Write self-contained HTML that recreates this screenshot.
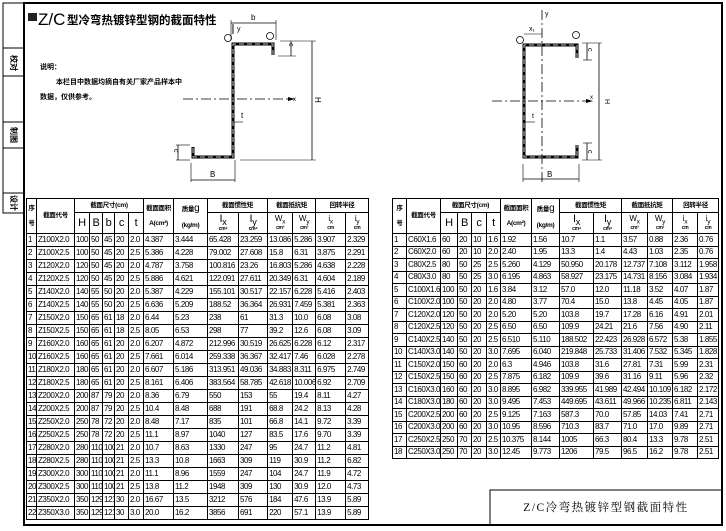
<!DOCTYPE html>
<html><head><meta charset="utf-8"><style>
body{margin:0;width:726px;height:531px;background:#fff;position:relative;overflow:hidden;font-family:"Liberation Sans","Noto Sans CJK SC",sans-serif;}
svg.bg{position:absolute;left:0;top:0}
table{position:absolute;border-collapse:collapse;table-layout:fixed;font-size:8px;color:#000;}
td{border:1px solid #000;padding:0 0 0 1px;white-space:nowrap;overflow:hidden;line-height:1;letter-spacing:-0.45px}
.h td{font-weight:bold;font-size:6.5px;text-align:center;padding:0;line-height:1.1;letter-spacing:-0.3px}
.hb td{font-size:11px;font-weight:normal}
.u{font-size:5px;display:block;font-weight:bold}
.s{font-size:10px;font-weight:normal}
#L{left:26px;top:198px;width:342px}
#L tr.r{height:13px}
#R{left:392px;top:198px;width:326px}
#R tr.r{height:12.5px}
</style></head><body>
<svg class="bg" width="726" height="531" viewBox="0 0 726 531" font-family="Liberation Sans, Noto Sans CJK SC, sans-serif">
<rect x="24" y="3" width="698" height="522" fill="none" stroke="#000" stroke-width="2"/>
<rect x="3" y="3" width="21" height="210" fill="none" stroke="#000" stroke-width="1"/>
<g stroke="#000" stroke-width="1"><line x1="3" y1="48" x2="24" y2="48"/><line x1="3" y1="76" x2="24" y2="76"/><line x1="3" y1="122" x2="24" y2="122"/><line x1="3" y1="148" x2="24" y2="148"/><line x1="3" y1="193" x2="24" y2="193"/></g>
<g font-size="8" font-weight="bold" text-anchor="middle"><text transform="translate(11,63) rotate(90)">校对</text><text transform="translate(11,135) rotate(90)">制图</text><text transform="translate(11,203) rotate(90)">设计</text></g>
<rect x="28" y="13" width="9" height="8" fill="#222"/>
<text x="38" y="25" font-size="17" font-weight="100" font-family="Liberation Sans, sans-serif">Z/C</text>
<text x="67" y="24" font-size="11.5" font-weight="bold">型冷弯热镀锌型钢的截面特性</text>
<g font-size="7" font-weight="bold"><text x="40" y="69">说明：</text><text x="56" y="84">本栏目中数据均摘自有关厂家产品样本中</text><text x="40" y="99">数据，仅供参考。</text></g>
<g fill="none" stroke="#000">
<polyline points="273,55 273,44 233,44 233,157 193,157 193,147" stroke-width="3"/>
<polyline points="273,55 273,44 233,44 233,157 193,157 193,147" stroke="#fff" stroke-width="0.8" stroke-dasharray="5,3"/>
<line x1="183" y1="99" x2="288" y2="99" stroke-width="0.8" stroke-dasharray="10,3,2,3"/>
<line x1="233" y1="24" x2="233" y2="34" stroke-width="1"/>
<line x1="231" y1="23" x2="276" y2="23" stroke-width="0.8"/><line x1="231" y1="20" x2="231" y2="40" stroke-width="0.6"/><line x1="276" y1="20" x2="276" y2="40" stroke-width="0.6"/>
<line x1="280" y1="41" x2="316" y2="41" stroke-width="0.6"/><line x1="240" y1="160" x2="316" y2="160" stroke-width="0.6"/>
<line x1="312" y1="41" x2="312" y2="160" stroke-width="0.8"/>
<line x1="278" y1="56" x2="296" y2="56" stroke-width="0.6"/><line x1="291" y1="41" x2="291" y2="56" stroke-width="0.8"/>
<line x1="176" y1="145" x2="190" y2="145" stroke-width="0.6"/><line x1="178" y1="145" x2="178" y2="160" stroke-width="0.8"/><line x1="176" y1="160" x2="190" y2="160" stroke-width="0.6"/>
<line x1="191" y1="163" x2="191" y2="182" stroke-width="0.6"/><line x1="235" y1="160" x2="235" y2="182" stroke-width="0.6"/><line x1="191" y1="180" x2="235" y2="180" stroke-width="0.8"/>
<line x1="233" y1="122" x2="243" y2="122" stroke-width="0.6"/>
<circle cx="228" cy="38" r="3.5" stroke-width="0.8"/><circle cx="270" cy="36" r="3.5" stroke-width="0.8"/>
</g>
<polygon points="288,97 295,99 288,101" fill="#000"/>
<g font-size="8"><text x="251" y="20">b</text><text x="237" y="31" font-size="7">y</text><text x="293" y="101" font-size="6">x</text><text x="315" y="103" font-size="8" transform="rotate(90 318 100)">H</text><text x="241" y="118">t</text><text x="210" y="177">B</text><text x="286" y="52" font-size="7" transform="rotate(90 292 49)">c</text><text x="173" y="156" font-size="7" transform="rotate(90 177 153)">c</text></g>
<g fill="none" stroke="#000">
<polyline points="577,58 577,45 524,45 524,157 577,157 577,145" stroke-width="3"/>
<polyline points="577,58 577,45 524,45 524,157 577,157 577,145" stroke="#fff" stroke-width="0.8" stroke-dasharray="5,3"/>
<line x1="542" y1="10" x2="542" y2="182" stroke-width="0.8" stroke-dasharray="10,3,2,3"/>
<line x1="492" y1="101" x2="586" y2="101" stroke-width="0.8" stroke-dasharray="10,3,2,3"/>
<line x1="524" y1="34" x2="542" y2="34" stroke-width="0.6"/>
<line x1="582" y1="43" x2="602" y2="43" stroke-width="0.6"/><line x1="582" y1="160" x2="602" y2="160" stroke-width="0.6"/><line x1="599" y1="43" x2="599" y2="160" stroke-width="0.8"/>
<line x1="587" y1="43" x2="587" y2="60" stroke-width="0.8"/><line x1="583" y1="60" x2="592" y2="60" stroke-width="0.6"/>
<line x1="587" y1="143" x2="587" y2="160" stroke-width="0.8"/><line x1="583" y1="143" x2="592" y2="143" stroke-width="0.6"/>
<line x1="523" y1="164" x2="523" y2="182" stroke-width="0.6"/><line x1="579" y1="164" x2="579" y2="182" stroke-width="0.6"/><line x1="523" y1="179" x2="579" y2="179" stroke-width="0.8"/>
<line x1="524" y1="122" x2="535" y2="122" stroke-width="0.6"/>
<circle cx="520" cy="40" r="3.5" stroke-width="0.8"/><circle cx="576" cy="35" r="3.5" stroke-width="0.8"/>
</g>
<polygon points="586,99 593,101 586,103" fill="#000"/>
<g font-size="7"><text x="545" y="16">y</text><text x="529" y="31">x₁</text><text x="590" y="99" font-size="6">x</text><text x="601" y="99" font-size="7" transform="rotate(90 603 101)">H</text><text x="532" y="118">t</text><text x="547" y="177" font-size="8">B</text><text x="588" y="54" transform="rotate(90 591 51)">c</text><text x="588" y="156" transform="rotate(90 591 153)">c</text></g>
<rect x="490" y="490" width="232" height="35" fill="none" stroke="#000" stroke-width="1"/>
<text x="606" y="511" font-size="11.5" text-anchor="middle" letter-spacing="1.5" font-family="Liberation Serif, Noto Serif CJK SC, serif">Z/C冷弯热镀锌型钢截面特性</text>
</svg>

<table id="L">
<colgroup><col style="width:10px"><col style="width:38px"><col style="width:15px"><col style="width:13px"><col style="width:12px"><col style="width:14px"><col style="width:15px"><col style="width:30px"><col style="width:34px"><col style="width:31px"><col style="width:29px"><col style="width:25px"><col style="width:23px"><col style="width:30px"><col style="width:23px"></colgroup>
<tr class="h" style="height:14px"><td rowspan="2">序<br><br>号</td><td rowspan="2">截面代号</td><td colspan="5">截面尺寸(cm)</td><td rowspan="2">截面面积<br><br>A(cm²)</td><td rowspan="2">质量<span class="s">g</span><br><br>(kg/m)</td><td colspan="2">截面惯性矩</td><td colspan="2">截面抵抗矩</td><td colspan="2">回转半径</td></tr>
<tr class="h hb" style="height:21px"><td>H</td><td>B</td><td>b</td><td>c</td><td>t</td><td>I<sub>x</sub><span class="u">cm⁴</span></td><td>I<sub>y</sub><span class="u">cm⁴</span></td><td style="font-size:8px">W<sub>x</sub><span class="u">cm³</span></td><td style="font-size:8px">W<sub>y</sub><span class="u">cm³</span></td><td style="font-size:8px">i<sub>x</sub><span class="u">cm</span></td><td style="font-size:8px">i<sub>y</sub><span class="u">cm</span></td></tr>
<tr class="r"><td>1</td><td>Z100X2.0</td><td>100</td><td>50</td><td>45</td><td>20</td><td>2.0</td><td>4.387</td><td>3.444</td><td>65.428</td><td>23.259</td><td>13.086</td><td>5.286</td><td>3.907</td><td>2.329</td></tr>
<tr class="r"><td>2</td><td>Z100X2.5</td><td>100</td><td>50</td><td>45</td><td>20</td><td>2.5</td><td>5.386</td><td>4.228</td><td>79.002</td><td>27.608</td><td>15.8</td><td>6.31</td><td>3.875</td><td>2.291</td></tr>
<tr class="r"><td>3</td><td>Z120X2.0</td><td>120</td><td>50</td><td>45</td><td>20</td><td>2.0</td><td>4.787</td><td>3.758</td><td>100.816</td><td>23.26</td><td>16.803</td><td>5.286</td><td>4.638</td><td>2.228</td></tr>
<tr class="r"><td>4</td><td>Z120X2.5</td><td>120</td><td>50</td><td>45</td><td>20</td><td>2.5</td><td>5.886</td><td>4.621</td><td>122.091</td><td>27.611</td><td>20.349</td><td>6.31</td><td>4.604</td><td>2.189</td></tr>
<tr class="r"><td>5</td><td>Z140X2.0</td><td>140</td><td>55</td><td>50</td><td>20</td><td>2.0</td><td>5.387</td><td>4.229</td><td>155.101</td><td>30.517</td><td>22.157</td><td>6.228</td><td>5.416</td><td>2.403</td></tr>
<tr class="r"><td>6</td><td>Z140X2.5</td><td>140</td><td>55</td><td>50</td><td>20</td><td>2.5</td><td>6.636</td><td>5.209</td><td>188.52</td><td>36.364</td><td>26.931</td><td>7.459</td><td>5.381</td><td>2.363</td></tr>
<tr class="r"><td>7</td><td>Z150X2.0</td><td>150</td><td>65</td><td>61</td><td>18</td><td>2.0</td><td>6.44</td><td>5.23</td><td>238</td><td>61</td><td>31.3</td><td>10.0</td><td>6.08</td><td>3.08</td></tr>
<tr class="r"><td>8</td><td>Z150X2.5</td><td>150</td><td>65</td><td>61</td><td>18</td><td>2.5</td><td>8.05</td><td>6.53</td><td>298</td><td>77</td><td>39.2</td><td>12.6</td><td>6.08</td><td>3.09</td></tr>
<tr class="r"><td>9</td><td>Z160X2.0</td><td>160</td><td>65</td><td>61</td><td>20</td><td>2.0</td><td>6.207</td><td>4.872</td><td>212.996</td><td>30.519</td><td>26.625</td><td>6.228</td><td>6.12</td><td>2.317</td></tr>
<tr class="r"><td>10</td><td>Z160X2.5</td><td>160</td><td>65</td><td>61</td><td>20</td><td>2.5</td><td>7.661</td><td>6.014</td><td>259.338</td><td>36.367</td><td>32.417</td><td>7.46</td><td>6.028</td><td>2.278</td></tr>
<tr class="r"><td>11</td><td>Z180X2.0</td><td>180</td><td>65</td><td>61</td><td>20</td><td>2.0</td><td>6.607</td><td>5.186</td><td>313.951</td><td>49.036</td><td>34.883</td><td>8.311</td><td>6.975</td><td>2.749</td></tr>
<tr class="r"><td>12</td><td>Z180X2.5</td><td>180</td><td>65</td><td>61</td><td>20</td><td>2.5</td><td>8.161</td><td>6.406</td><td>383.564</td><td>58.785</td><td>42.618</td><td>10.006</td><td>6.92</td><td>2.709</td></tr>
<tr class="r"><td>13</td><td>Z200X2.0</td><td>200</td><td>87</td><td>79</td><td>20</td><td>2.0</td><td>8.36</td><td>6.79</td><td>550</td><td>153</td><td>55</td><td>19.4</td><td>8.11</td><td>4.27</td></tr>
<tr class="r"><td>14</td><td>Z200X2.5</td><td>200</td><td>87</td><td>79</td><td>20</td><td>2.5</td><td>10.4</td><td>8.48</td><td>688</td><td>191</td><td>68.8</td><td>24.2</td><td>8.13</td><td>4.28</td></tr>
<tr class="r"><td>15</td><td>Z250X2.0</td><td>250</td><td>78</td><td>72</td><td>20</td><td>2.0</td><td>8.48</td><td>7.17</td><td>835</td><td>101</td><td>66.8</td><td>14.1</td><td>9.72</td><td>3.39</td></tr>
<tr class="r"><td>16</td><td>Z250X2.5</td><td>250</td><td>78</td><td>72</td><td>20</td><td>2.5</td><td>11.1</td><td>8.97</td><td>1040</td><td>127</td><td>83.5</td><td>17.6</td><td>9.70</td><td>3.39</td></tr>
<tr class="r"><td>17</td><td>Z280X2.0</td><td>280</td><td>110</td><td>100</td><td>21</td><td>2.0</td><td>10.7</td><td>8.63</td><td>1330</td><td>247</td><td>95</td><td>24.7</td><td>11.2</td><td>4.81</td></tr>
<tr class="r"><td>18</td><td>Z280X2.5</td><td>280</td><td>110</td><td>100</td><td>21</td><td>2.5</td><td>13.3</td><td>10.8</td><td>1663</td><td>309</td><td>119</td><td>30.9</td><td>11.2</td><td>6.82</td></tr>
<tr class="r"><td>19</td><td>Z300X2.0</td><td>300</td><td>110</td><td>100</td><td>21</td><td>2.0</td><td>11.1</td><td>8.96</td><td>1559</td><td>247</td><td>104</td><td>24.7</td><td>11.9</td><td>4.72</td></tr>
<tr class="r"><td>20</td><td>Z300X2.5</td><td>300</td><td>110</td><td>100</td><td>21</td><td>2.5</td><td>13.8</td><td>11.2</td><td>1948</td><td>309</td><td>130</td><td>30.9</td><td>12.0</td><td>4.73</td></tr>
<tr class="r"><td>21</td><td>Z350X2.0</td><td>350</td><td>129</td><td>121</td><td>30</td><td>2.0</td><td>16.67</td><td>13.5</td><td>3212</td><td>576</td><td>184</td><td>47.6</td><td>13.9</td><td>5.89</td></tr>
<tr class="r"><td>22</td><td>Z350X3.0</td><td>350</td><td>129</td><td>121</td><td>30</td><td>3.0</td><td>20.0</td><td>16.2</td><td>3856</td><td>691</td><td>220</td><td>57.1</td><td>13.9</td><td>5.89</td></tr>
</table>

<table id="R">
<colgroup><col style="width:14px"><col style="width:34px"><col style="width:17px"><col style="width:14px"><col style="width:15px"><col style="width:14px"><col style="width:31px"><col style="width:28px"><col style="width:34px"><col style="width:28px"><col style="width:26px"><col style="width:25px"><col style="width:25px"><col style="width:21px"></colgroup>
<tr class="h" style="height:14px"><td rowspan="2">序<br><br>号</td><td rowspan="2">截面代号</td><td colspan="4">截面尺寸(cm)</td><td rowspan="2">截面面积<br><br>A(cm²)</td><td rowspan="2">质量<span class="s">g</span><br><br>(kg/m)</td><td colspan="2">截面惯性矩</td><td colspan="2">截面抵抗矩</td><td colspan="2">回转半径</td></tr>
<tr class="h hb" style="height:21px"><td>H</td><td>B</td><td>c</td><td>t</td><td>I<sub>x</sub><span class="u">cm⁴</span></td><td>I<sub>y</sub><span class="u">cm⁴</span></td><td style="font-size:8px">W<sub>x</sub><span class="u">cm³</span></td><td style="font-size:8px">W<sub>y</sub><span class="u">cm³</span></td><td style="font-size:8px">i<sub>x</sub><span class="u">cm</span></td><td style="font-size:8px">i<sub>y</sub><span class="u">cm</span></td></tr>
<tr class="r"><td>1</td><td>C60X1.6</td><td>60</td><td>20</td><td>10</td><td>1.6</td><td>1.92</td><td>1.56</td><td>10.7</td><td>1.1</td><td>3.57</td><td>0.88</td><td>2.36</td><td>0.76</td></tr>
<tr class="r"><td>2</td><td>C60X2.0</td><td>60</td><td>20</td><td>10</td><td>2.0</td><td>2.40</td><td>1.95</td><td>13.3</td><td>1.4</td><td>4.43</td><td>1.03</td><td>2.35</td><td>0.76</td></tr>
<tr class="r"><td>3</td><td>C80X2.5</td><td>80</td><td>50</td><td>25</td><td>2.5</td><td>5.260</td><td>4.129</td><td>50.950</td><td>20.178</td><td>12.737</td><td>7.108</td><td>3.112</td><td>1.958</td></tr>
<tr class="r"><td>4</td><td>C80X3.0</td><td>80</td><td>50</td><td>25</td><td>3.0</td><td>6.195</td><td>4.863</td><td>58.927</td><td>23.175</td><td>14.731</td><td>8.156</td><td>3.084</td><td>1.934</td></tr>
<tr class="r"><td>5</td><td>C100X1.6</td><td>100</td><td>50</td><td>20</td><td>1.6</td><td>3.84</td><td>3.12</td><td>57.0</td><td>12.0</td><td>11.18</td><td>3.52</td><td>4.07</td><td>1.87</td></tr>
<tr class="r"><td>6</td><td>C100X2.0</td><td>100</td><td>50</td><td>20</td><td>2.0</td><td>4.80</td><td>3.77</td><td>70.4</td><td>15.0</td><td>13.8</td><td>4.45</td><td>4.05</td><td>1.87</td></tr>
<tr class="r"><td>7</td><td>C120X2.0</td><td>120</td><td>50</td><td>20</td><td>2.0</td><td>5.20</td><td>5.20</td><td>103.8</td><td>19.7</td><td>17.28</td><td>6.16</td><td>4.91</td><td>2.01</td></tr>
<tr class="r"><td>8</td><td>C120X2.5</td><td>120</td><td>50</td><td>20</td><td>2.5</td><td>6.50</td><td>6.50</td><td>109.9</td><td>24.21</td><td>21.6</td><td>7.56</td><td>4.90</td><td>2.11</td></tr>
<tr class="r"><td>9</td><td>C140X2.5</td><td>140</td><td>50</td><td>20</td><td>2.5</td><td>6.510</td><td>5.110</td><td>188.502</td><td>22.423</td><td>26.928</td><td>6.572</td><td>5.38</td><td>1.855</td></tr>
<tr class="r"><td>10</td><td>C140X3.0</td><td>140</td><td>50</td><td>20</td><td>3.0</td><td>7.695</td><td>6.040</td><td>219.848</td><td>25.733</td><td>31.406</td><td>7.532</td><td>5.345</td><td>1.828</td></tr>
<tr class="r"><td>11</td><td>C150X2.0</td><td>150</td><td>60</td><td>20</td><td>2.0</td><td>6.3</td><td>4.946</td><td>103.8</td><td>31.6</td><td>27.81</td><td>7.31</td><td>5.99</td><td>2.31</td></tr>
<tr class="r"><td>12</td><td>C150X2.5</td><td>150</td><td>60</td><td>20</td><td>2.5</td><td>7.875</td><td>6.182</td><td>109.9</td><td>39.6</td><td>31.16</td><td>9.11</td><td>5.96</td><td>2.32</td></tr>
<tr class="r"><td>13</td><td>C160X3.0</td><td>160</td><td>60</td><td>20</td><td>3.0</td><td>8.895</td><td>6.982</td><td>339.955</td><td>41.989</td><td>42.494</td><td>10.109</td><td>6.182</td><td>2.172</td></tr>
<tr class="r"><td>14</td><td>C180X3.0</td><td>180</td><td>60</td><td>20</td><td>3.0</td><td>9.495</td><td>7.453</td><td>449.695</td><td>43.611</td><td>49.966</td><td>10.235</td><td>6.811</td><td>2.143</td></tr>
<tr class="r"><td>15</td><td>C200X2.5</td><td>200</td><td>60</td><td>20</td><td>2.5</td><td>9.125</td><td>7.163</td><td>587.3</td><td>70.0</td><td>57.85</td><td>14.03</td><td>7.41</td><td>2.71</td></tr>
<tr class="r"><td>16</td><td>C200X3.0</td><td>200</td><td>60</td><td>20</td><td>3.0</td><td>10.95</td><td>8.596</td><td>710.3</td><td>83.7</td><td>71.0</td><td>17.0</td><td>9.89</td><td>2.71</td></tr>
<tr class="r"><td>17</td><td>C250X2.5</td><td>250</td><td>70</td><td>20</td><td>2.5</td><td>10.375</td><td>8.144</td><td>1005</td><td>66.3</td><td>80.4</td><td>13.3</td><td>9.78</td><td>2.51</td></tr>
<tr class="r"><td>18</td><td>C250X3.0</td><td>250</td><td>70</td><td>20</td><td>3.0</td><td>12.45</td><td>9.773</td><td>1206</td><td>79.5</td><td>96.5</td><td>16.2</td><td>9.78</td><td>2.51</td></tr>
</table>
</body></html>
